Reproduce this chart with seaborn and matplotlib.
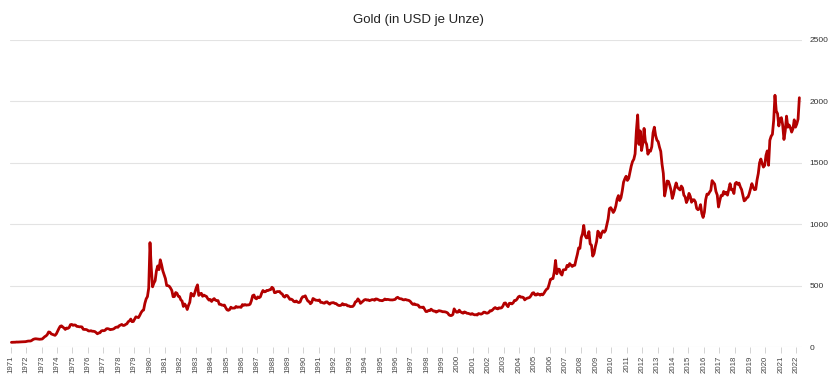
import numpy as np
import pandas as pd
import seaborn as sns
import matplotlib.pyplot as plt

# Goldpreis, Monatswerte (USD je Unze)
years = list(range(1971, 2023))
gold = {
    1971: [37.9, 38.7, 38.9, 39.0, 40.5, 40.1, 41.0, 42.7, 42.0, 42.5, 42.9, 43.5],
    1972: [45.7, 48.3, 48.3, 49.0, 54.6, 62.1, 65.7, 67.0, 65.5, 64.9, 62.9, 63.9],
    1973: [65.1, 74.2, 84.4, 90.5, 102.0, 122.5, 120.2, 106.8, 103.0, 100.1, 94.8, 106.7],
    1974: [129.2, 150.2, 168.4, 172.2, 163.1, 154.1, 143.0, 154.6, 151.8, 158.8, 181.7, 183.9],
    1975: [176.3, 179.6, 178.0, 167.3, 167.0, 164.2, 165.1, 163.0, 144.1, 142.8, 142.8, 139.3],
    1976: [131.0, 130.6, 132.6, 128.3, 128.0, 125.6, 117.6, 107.5, 114.2, 116.0, 130.2, 133.9],
    1977: [132.3, 136.4, 148.3, 149.4, 146.6, 140.8, 143.4, 144.8, 149.4, 158.4, 162.6, 160.5],
    1978: [173.2, 178.1, 183.7, 175.2, 176.3, 183.7, 188.8, 206.1, 212.4, 227.5, 206.1, 207.8],
    1979: [227.3, 245.7, 242.1, 239.2, 257.6, 279.1, 294.9, 301.0, 355.1, 391.7, 410.4, 480.1],
    1980: [850.0, 640.0, 490.0, 520.0, 540.0, 620.0, 660.0, 630.0, 710.0, 670.0, 620.0, 590.0],
    1981: [557.4, 500.5, 499.8, 494.6, 479.6, 460.2, 409.4, 410.8, 443.4, 437.7, 413.6, 410.1],
    1982: [384.2, 374.2, 330.0, 350.4, 334.9, 305.4, 339.2, 364.1, 437.8, 422.1, 414.9, 445.0],
    1983: [481.3, 505.9, 419.8, 432.8, 437.5, 413.0, 422.7, 416.3, 411.8, 393.6, 381.7, 387.0],
    1984: [370.9, 386.0, 394.3, 381.4, 378.0, 377.9, 347.7, 348.0, 341.1, 340.2, 341.2, 320.2],
    1985: [303.0, 298.7, 303.8, 324.1, 316.5, 316.8, 317.3, 330.3, 323.2, 325.4, 325.3, 322.7],
    1986: [345.4, 338.9, 345.7, 340.4, 342.5, 342.8, 348.7, 376.8, 417.9, 423.4, 398.3, 391.9],
    1987: [408.3, 401.1, 408.7, 438.4, 460.2, 449.6, 450.5, 460.7, 459.8, 465.5, 467.2, 486.3],
    1988: [477.6, 442.3, 443.6, 451.6, 451.1, 451.9, 437.4, 432.3, 413.1, 406.1, 420.4, 418.6],
    1989: [404.0, 387.8, 390.1, 384.1, 371.0, 367.6, 375.0, 365.4, 361.8, 366.9, 394.3, 409.4],
    1990: [410.1, 416.8, 393.1, 374.3, 369.1, 352.3, 362.5, 394.9, 389.3, 380.8, 381.1, 378.2],
    1991: [383.6, 363.3, 363.5, 358.4, 356.8, 366.7, 367.7, 356.5, 348.7, 358.7, 360.0, 361.7],
    1992: [354.5, 353.9, 344.3, 338.6, 337.4, 340.8, 353.1, 342.8, 345.4, 344.4, 335.0, 334.8],
    1993: [329.0, 329.3, 330.1, 342.2, 367.2, 371.9, 392.0, 378.8, 355.3, 364.2, 373.8, 383.3],
    1994: [387.0, 382.0, 384.0, 377.3, 381.4, 385.6, 385.5, 380.4, 391.6, 389.8, 384.4, 379.3],
    1995: [378.6, 376.5, 382.1, 391.0, 385.3, 387.6, 386.2, 383.7, 383.1, 383.1, 385.5, 387.4],
    1996: [399.5, 404.8, 396.2, 392.9, 392.0, 385.3, 383.5, 387.5, 383.1, 381.1, 377.9, 369.0],
    1997: [355.0, 346.6, 351.8, 344.5, 343.8, 340.8, 324.1, 324.0, 322.8, 324.9, 306.0, 288.7],
    1998: [289.1, 297.5, 295.9, 308.4, 299.1, 292.3, 292.9, 284.1, 288.9, 296.1, 294.1, 291.6],
    1999: [287.1, 287.3, 285.9, 282.6, 276.4, 261.3, 256.1, 256.7, 264.7, 310.7, 293.2, 283.1],
    2000: [284.3, 300.0, 286.4, 279.7, 275.3, 285.7, 281.6, 274.5, 273.7, 270.0, 266.0, 272.0],
    2001: [265.5, 261.9, 263.0, 260.5, 272.4, 270.2, 267.5, 272.4, 283.4, 283.1, 276.2, 275.9],
    2002: [281.7, 295.5, 294.0, 302.7, 314.5, 321.2, 313.3, 310.3, 319.2, 316.6, 319.2, 333.4],
    2003: [356.9, 359.0, 340.6, 328.2, 355.7, 356.4, 351.0, 359.8, 378.9, 378.9, 389.9, 407.6],
    2004: [414.0, 405.3, 406.7, 403.0, 383.8, 392.4, 398.1, 400.5, 405.3, 420.5, 439.4, 442.1],
    2005: [424.0, 423.4, 434.2, 428.9, 421.9, 430.7, 424.5, 437.9, 456.1, 469.9, 476.7, 510.1],
    2006: [549.9, 555.0, 557.1, 610.6, 705.0, 596.2, 633.8, 632.6, 598.2, 585.8, 627.8, 629.8],
    2007: [631.2, 664.8, 654.9, 679.4, 667.3, 655.5, 665.3, 665.4, 712.7, 754.6, 806.3, 803.2],
    2008: [889.6, 922.3, 990.0, 909.7, 888.7, 889.5, 939.8, 839.0, 829.9, 740.0, 760.9, 816.1],
    2009: [858.7, 943.2, 924.3, 890.2, 928.6, 945.7, 934.2, 949.4, 996.6, 1043.2, 1127.0, 1134.7],
    2010: [1117.9, 1095.4, 1113.3, 1148.7, 1205.4, 1232.9, 1193.0, 1215.8, 1271.0, 1342.0, 1369.9, 1390.6],
    2011: [1356.4, 1372.7, 1424.0, 1473.8, 1510.4, 1528.7, 1572.8, 1760.0, 1890.0, 1650.0, 1760.0, 1600.0],
    2012: [1656.1, 1780.0, 1673.8, 1649.7, 1570.0, 1598.8, 1594.3, 1630.3, 1744.8, 1790.0, 1721.6, 1684.8],
    2013: [1671.9, 1627.6, 1593.1, 1487.9, 1414.0, 1230.0, 1285.5, 1351.7, 1348.6, 1316.6, 1275.9, 1210.0],
    2014: [1244.3, 1299.6, 1336.1, 1298.5, 1288.7, 1279.1, 1310.6, 1295.1, 1236.6, 1222.5, 1176.3, 1200.6],
    2015: [1250.8, 1227.1, 1178.6, 1198.9, 1198.6, 1181.5, 1128.3, 1117.9, 1124.8, 1159.3, 1086.4, 1055.0],
    2016: [1097.9, 1199.5, 1245.1, 1242.3, 1260.9, 1276.4, 1355.0, 1340.2, 1326.6, 1266.6, 1238.4, 1140.0],
    2017: [1192.1, 1234.2, 1231.1, 1266.9, 1246.0, 1260.3, 1236.8, 1283.0, 1330.0, 1279.5, 1281.9, 1250.0],
    2018: [1331.3, 1340.7, 1324.7, 1334.8, 1303.5, 1281.6, 1237.7, 1190.0, 1198.4, 1215.4, 1220.7, 1250.4],
    2019: [1291.8, 1330.1, 1300.9, 1280.9, 1283.7, 1359.0, 1412.9, 1500.4, 1530.6, 1494.8, 1465.0, 1479.1],
    2020: [1560.7, 1597.1, 1480.0, 1683.2, 1715.9, 1732.2, 1846.5, 2050.0, 1921.9, 1900.3, 1800.0, 1858.4],
    2021: [1867.6, 1808.2, 1690.0, 1760.0, 1880.0, 1790.0, 1807.8, 1785.3, 1750.0, 1776.7, 1850.0, 1790.3],
    2022: [1816.0, 1856.3, 2030.0],
}

# Zeitachse als Dezimaljahr (Monatsmitte)
rows = []
for y in years:
    for m, v in enumerate(gold[y]):
        rows.append((y + (m + 0.5) / 12, v))
df = pd.DataFrame(rows, columns=['jahr', 'preis'])

sns.set_theme(style='white')
plt.rcParams['font.family'] = ['Liberation Sans', 'DejaVu Sans']

fig = plt.figure(figsize=(8.31, 3.85), dpi=100)
ax = fig.add_axes([10 / 831, 38 / 385, 792 / 831, 307 / 385])

sns.lineplot(data=df, x='jahr', y='preis', ax=ax, color='#b30000', linewidth=2.0)

ax.set_xlim(1970.95, 2022.38)
ax.set_ylim(0, 2500)

# y-Achse rechts
ax.yaxis.tick_right()
ax.set_yticks([0, 500, 1000, 1500, 2000, 2500])
ax.tick_params(axis='y', length=0, pad=5.5, labelsize=6, labelcolor='#333333')
ax.grid(axis='y', color='#e3e3e3', linewidth=0.8)
ax.grid(axis='x', visible=False)

# x-Achse: alle Jahre, senkrecht
ax.set_xticks(years)
ax.set_xticklabels([str(y) for y in years], rotation=90)
ax.tick_params(axis='x', length=4, width=0.6, color='#cccccc', pad=2,
               labelsize=5.6, labelcolor='#444444', bottom=True)

for s in ax.spines.values():
    s.set_visible(False)
ax.set_xlabel('')
ax.set_ylabel('')

fig.text(418 / 831, 1 - 20 / 385, 'Gold (in USD je Unze)', ha='center', va='center',
         fontsize=9.5, color='#222222')

fig.savefig('out.png', dpi=100)
